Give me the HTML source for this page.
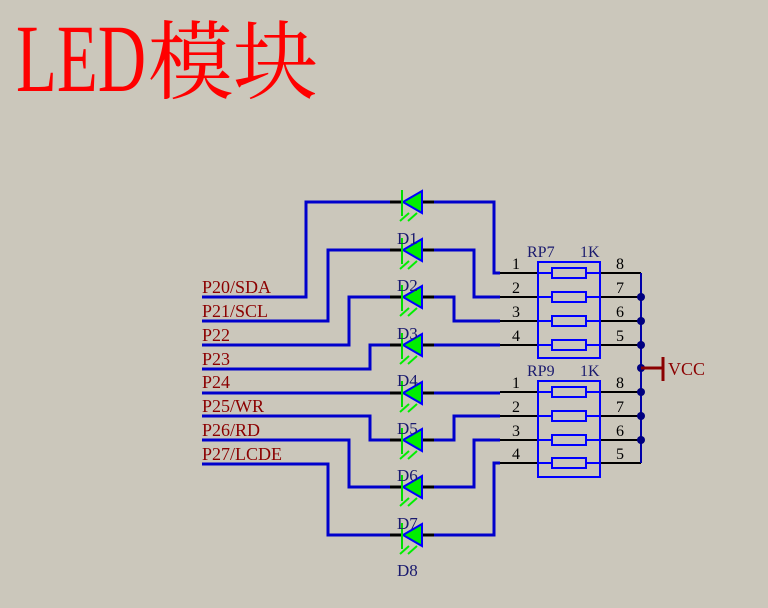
<!DOCTYPE html>
<html><head><meta charset="utf-8"><style>
html,body{margin:0;padding:0;background:#cbc7bb;}
svg{display:block}
</style></head><body>
<svg width="768" height="608" viewBox="0 0 768 608" xmlns="http://www.w3.org/2000/svg" font-family="Liberation Serif, serif">
<rect width="768" height="608" fill="#cbc7bb"/>
<text x="16" y="91" font-size="96" fill="#ff0000" textLength="130" lengthAdjust="spacingAndGlyphs">LED</text>
<text x="148" y="92" font-size="86" fill="#ff0000" font-family="Noto Serif CJK SC, serif" textLength="170" lengthAdjust="spacingAndGlyphs">模块</text>

<g fill="none" stroke="#0000cc" stroke-width="3">
<!-- left wires -->
<polyline points="202,297 306,297 306,202 390,202"/>
<polyline points="202,321 328,321 328,250 390,250"/>
<polyline points="202,345 349,345 349,297 390,297"/>
<polyline points="202,369 370,369 370,345 390,345"/>
<polyline points="202,393 390,393"/>
<polyline points="202,416 370,416 370,440 390,440"/>
<polyline points="202,440 349,440 349,487 390,487"/>
<polyline points="202,464 328,464 328,535 390,535"/>
<!-- right wires -->
<polyline points="432,202 494,202 494,273 500,273"/>
<polyline points="432,250 474,250 474,297 500,297"/>
<polyline points="432,297 454,297 454,321 500,321"/>
<polyline points="432,345 500,345"/>
<polyline points="432,393 500,393"/>
<polyline points="432,440 454,440 454,416 500,416"/>
<polyline points="432,487 474,487 474,440 500,440"/>
<polyline points="432,535 494,535 494,463 500,463"/>
</g>
<g stroke="#000" stroke-width="2">
<line x1="500" y1="273" x2="641" y2="273"/><line x1="500" y1="297" x2="641" y2="297"/>
<line x1="500" y1="321" x2="641" y2="321"/><line x1="500" y1="345" x2="641" y2="345"/>
<line x1="500" y1="392" x2="641" y2="392"/><line x1="500" y1="416" x2="641" y2="416"/>
<line x1="500" y1="440" x2="641" y2="440"/><line x1="500" y1="463" x2="641" y2="463"/>
</g>
<line x1="641" y1="273" x2="641" y2="463" stroke="#0000aa" stroke-width="2"/>
<g fill="#000080">
<circle cx="641" cy="297" r="4"/><circle cx="641" cy="321" r="4"/><circle cx="641" cy="345" r="4"/>
<circle cx="641" cy="368" r="4"/><circle cx="641" cy="392" r="4"/><circle cx="641" cy="416" r="4"/>
<circle cx="641" cy="440" r="4"/>
</g>
<line x1="641" y1="368" x2="663" y2="368" stroke="#8b0000" stroke-width="3"/>
<line x1="663" y1="357" x2="663" y2="381" stroke="#8b0000" stroke-width="3"/>
<text x="668" y="375" font-size="18" fill="#8b0000">VCC</text>

<!-- resistor packs -->
<g fill="none" stroke="#0000ff" stroke-width="2">
<rect x="538" y="262" width="62" height="96"/>
<rect x="538" y="381" width="62" height="96"/>
</g>
<g fill="#cbc7bb" stroke="#0000ff" stroke-width="2">
<line x1="538" y1="273" x2="600" y2="273"/><rect x="552" y="268" width="34" height="10"/>
<line x1="538" y1="297" x2="600" y2="297"/><rect x="552" y="292" width="34" height="10"/>
<line x1="538" y1="321" x2="600" y2="321"/><rect x="552" y="316" width="34" height="10"/>
<line x1="538" y1="345" x2="600" y2="345"/><rect x="552" y="340" width="34" height="10"/>
<line x1="538" y1="392" x2="600" y2="392"/><rect x="552" y="387" width="34" height="10"/>
<line x1="538" y1="416" x2="600" y2="416"/><rect x="552" y="411" width="34" height="10"/>
<line x1="538" y1="440" x2="600" y2="440"/><rect x="552" y="435" width="34" height="10"/>
<line x1="538" y1="463" x2="600" y2="463"/><rect x="552" y="458" width="34" height="10"/>
</g>
<g font-size="16" fill="#000">
<text x="512" y="269">1</text><text x="512" y="293">2</text><text x="512" y="317">3</text><text x="512" y="341">4</text>
<text x="616" y="269">8</text><text x="616" y="293">7</text><text x="616" y="317">6</text><text x="616" y="341">5</text>
<text x="512" y="388">1</text><text x="512" y="412">2</text><text x="512" y="436">3</text><text x="512" y="459">4</text>
<text x="616" y="388">8</text><text x="616" y="412">7</text><text x="616" y="436">6</text><text x="616" y="459">5</text>
</g>
<g font-size="16" fill="#1a1a6e">
<text x="527" y="257">RP7</text><text x="580" y="257">1K</text>
<text x="527" y="376">RP9</text><text x="580" y="376">1K</text>
</g>

<!-- port labels -->
<g font-size="18" fill="#8b0000">
<text x="202" y="293">P20/SDA</text>
<text x="202" y="317">P21/SCL</text>
<text x="202" y="341">P22</text>
<text x="202" y="365">P23</text>
<text x="202" y="388">P24</text>
<text x="202" y="412">P25/WR</text>
<text x="202" y="436">P26/RD</text>
<text x="202" y="460">P27/LCDE</text>
</g>

<!-- diodes -->
<defs>
<g id="d">
<line x1="-12" y1="0" x2="0" y2="0" stroke="#000" stroke-width="3"/>
<line x1="20" y1="0" x2="32" y2="0" stroke="#000" stroke-width="3"/>
<polygon points="1,0 20,-11 20,11" fill="#00ee00" stroke="#0000ff" stroke-width="2"/>
<line x1="0" y1="-12" x2="0" y2="14" stroke="#00dd00" stroke-width="2"/>
<line x1="-2" y1="19" x2="7" y2="11" stroke="#00ee00" stroke-width="2"/>
<line x1="6" y1="19" x2="15" y2="11" stroke="#00ee00" stroke-width="2"/>
</g>
</defs>
<use href="#d" x="402" y="202"/><use href="#d" x="402" y="250"/>
<use href="#d" x="402" y="297"/><use href="#d" x="402" y="345"/>
<use href="#d" x="402" y="393"/><use href="#d" x="402" y="440"/>
<use href="#d" x="402" y="487"/><use href="#d" x="402" y="535"/>
<g font-size="17" fill="#1a1a6e">
<text x="397" y="244">D1</text><text x="397" y="291">D2</text>
<text x="397" y="339">D3</text><text x="397" y="386">D4</text>
<text x="397" y="434">D5</text><text x="397" y="481">D6</text>
<text x="397" y="529">D7</text><text x="397" y="576">D8</text>
</g>
</svg>
</body></html>
